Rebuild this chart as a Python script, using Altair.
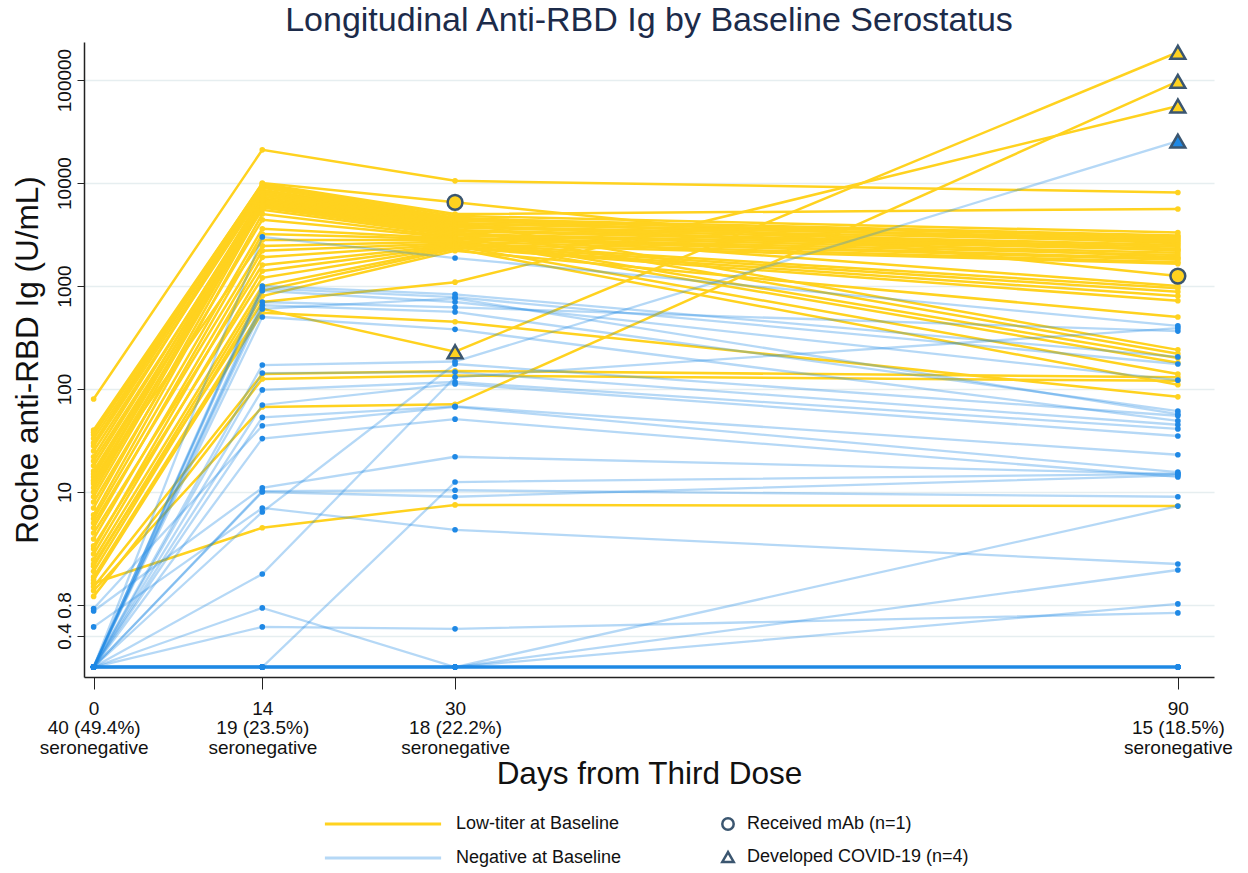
import altair as alt
import pandas as pd

# Study visit days after the third vaccine dose
days = [0, 14, 30, 90]
seroneg_counts = ["40 (49.4%)", "19 (23.5%)", "18 (22.2%)", "15 (18.5%)"]

LOW = "Low-titer at Baseline"
NEG = "Negative at Baseline"

# Roche anti-RBD Ig (U/mL) per patient, low-titer group (L1..L41)
low_d0 = [80, 36, 40, 30, 33, 22, 28, 38, 25, 14, 18, 12, 20, 10, 16, 13, 9, 11, 7, 15,
          6, 8, 5.5, 4.5, 12.5, 5, 3.5, 2.8, 4, 2.5, 3, 2.2, 1.9, 1.7, 2, 1.5, 1.4, 1.2,
          0.97, 1.1, 1.3]
low_d14 = [21000, 10000, 9800, 9500, 9200, 9000, 8600, 8300, 8000, 7700, 7400, 7100, 6900,
           6700, 6500, 6300, 6100, 6000, 5800, 5500, 5000, 4400, 3600, 3200, 2800, 2450,
           2200, 1900, 1600, 1400, 1200, 1000, 900, 800, 700, 600, 550, 140, 125, 67, 4.5]
low_d30 = [10500, 6500, 5000, 4800, 4600, 4500, 4400, 4300, 4200, 4100, 4000, 3900, 3800,
           3700, 3600, 3500, 3400, 3300, 3200, 3100, 3000, 2950, 2900, 2850, 2800, 2700,
           2600, 2550, 2500, 2450, 2400, 2350, 2300, 2200, 1090, 230, 450, 150, 135, 71, 7.5]
low_d90 = [8100, 1250, 5600, 3300, 2600, 3100, 2200, 3000, 240, 2800, 2900, 1900, 2700,
           2500, 220, 2400, 2300, 1000, 2250, 2100, 200, 2000, 1850, 1800, 180, 1700, 950,
           1650, 880, 140, 800, 720, 110, 500, 56000, 186000, 84, 130, 120, 97000, 7.3]

# Negative-at-baseline group (N1..N40)
neg_d0 = [0.2, 0.2, 0.2, 0.2, 0.2, 0.2, 0.2, 0.2, 0.2, 0.2, 0.2, 0.2, 0.2, 0.74, 0.2, 0.7,
          0.2, 0.2, 0.49, 0.2, 0.2, 0.2, 0.2, 0.2, 0.2, 0.2, 0.2, 0.2, 0.2, 0.2, 0.2, 0.2,
          0.2, 0.2, 0.2, 0.2, 0.2, 0.2, 0.2, 0.2]
neg_d14 = [3000, 1000, 950, 900, 700, 650, 600, 500, 171, 143, 98, 70, 53, 44, 33, 11,
           10.2, 10, 7, 6.4, 1.6, 0.2, 0.75, 0.49, 0.2, 0.2, 0.2, 0.2, 0.2, 0.2, 0.2, 0.2,
           0.2, 0.2, 0.2, 0.2, 0.2, 0.2, 0.2, 0.2]
neg_d30 = [1870, 830, 780, 700, 620, 560, 760, 380, 185, 146, 117, 112, 68, 67, 51, 22,
           10.4, 9, 4.3, 175, 130, 12.5, 0.2, 0.47, 0.2, 0.2, 0.2, 0.2, 0.2, 0.2, 0.2, 0.2,
           0.2, 0.2, 0.2, 0.2, 0.2, 0.2, 0.2, 0.2]
neg_d90 = [410, 205, 175, 122, 365, 61, 57, 49, 25500, 45, 41, 35, 23, 15.6, 14, 15, 9,
           14.5, 2.0, 55, 390, 15, 7.3, 0.67, 0.82, 1.75, 0.2, 0.2, 0.2, 0.2, 0.2, 0.2,
           0.2, 0.2, 0.2, 0.2, 0.2, 0.2, 0.2, 0.2]

# Highlighted visits: (patient, day)
mab_visits = [("L2", 30), ("L2", 90)]
covid_visits = [("L36", 30), ("L36", 90), ("L35", 90), ("L40", 90), ("N9", 90)]

MAB = "Received mAb (n=1)"
COVID = "Developed COVID-19 (n=4)"


def long_table(prefix, group, series):
    rows = []
    for i in range(len(series[0])):
        for d, vals in zip(days, series):
            rows.append({"pid": f"{prefix}{i + 1}", "group": group, "day": d, "value": vals[i]})
    return pd.DataFrame(rows)


low_df = long_table("L", LOW, [low_d0, low_d14, low_d30, low_d90])
neg_df = long_table("N", NEG, [neg_d0, neg_d14, neg_d30, neg_d90])
all_df = pd.concat([low_df, neg_df], ignore_index=True)

mark_rows = []
for label, visits in [(MAB, mab_visits), (COVID, covid_visits)]:
    for pid, d in visits:
        hit = all_df[(all_df.pid == pid) & (all_df.day == d)].iloc[0]
        mark_rows.append({"pid": pid, "group": hit.group, "day": d, "value": hit.value, "marker": label})
marker_df = pd.DataFrame(mark_rows)

YELLOW = "#FFD21F"
BLUE = "#1E88E5"
SLATE = "#3B5670"
FONT = "Liberation Sans"

x_label_expr = " : ".join(
    f"datum.value == {d} ? ['{d}', '{c}', 'seronegative']" for d, c in zip(days, seroneg_counts)
) + " : ''"

x_enc = alt.X(
    "day:Q",
    scale=alt.Scale(domain=[-0.8, 93], nice=False, zero=False),
    axis=alt.Axis(
        values=days, title="Days from Third Dose", labelExpr=x_label_expr,
        grid=False, tickSize=12, tickColor="#222", domainColor="#222", domainWidth=1.5,
        labelFontSize=19, labelLineHeight=19.5, labelPadding=10, labelColor="#111",
        titleFontSize=31.5, titleFontWeight="normal", titleColor="#111", titlePadding=1,
        labelFont=FONT, titleFont=FONT,
    ),
)
y_enc = alt.Y(
    "value:Q",
    scale=alt.Scale(type="log", domain=[0.16, 234000], nice=False),
    axis=alt.Axis(
        values=[0.4, 0.8, 10, 100, 1000, 10000, 100000],
        labelExpr="datum.value < 1 ? format(datum.value, '.1f') : format(datum.value, 'd')",
        title="Roche anti-RBD Ig (U/mL)", labelAngle=270, labelAlign="center",
        labelBaseline="bottom", labelFontSize=19, labelPadding=3, labelColor="#111",
        tickSize=7, tickColor="#222", domainColor="#222", domainWidth=1.5,
        grid=True, gridColor="#E6EEF0", gridWidth=1.5,
        titleFontSize=31.5, titleFontWeight="normal", titleColor="#111", titlePadding=11,
        labelFont=FONT, titleFont=FONT,
    ),
)

# A flat path scaled past its symbol box gives a long line swatch in the legend
line_color = alt.Color(
    "group:N",
    scale=alt.Scale(domain=[LOW, NEG], range=[YELLOW, "rgba(30,136,229,0.33)"]),
    legend=alt.Legend(
        title=None, orient="none", legendX=290, legendY=773, symbolType="M-8.3,0L8.3,0",
        symbolSize=196, symbolStrokeWidth=3, labelFontSize=18, labelFont=FONT,
        labelColor="#111", labelOffset=64, labelLimit=400, rowPadding=16, padding=0,
    ),
)
point_fill = alt.Fill("group:N", scale=alt.Scale(domain=[LOW, NEG], range=[YELLOW, BLUE]), legend=None)

base_low = alt.Chart(low_df)
base_neg = alt.Chart(neg_df)

low_lines = base_low.mark_line(strokeWidth=2.5).encode(x=x_enc, y=y_enc, detail="pid:N", color=line_color)
low_pts = base_low.mark_circle(size=32, opacity=1).encode(x=x_enc, y=y_enc, fill=point_fill)
neg_lines = base_neg.mark_line(strokeWidth=2.3).encode(x=x_enc, y=y_enc, detail="pid:N", color=line_color)
neg_pts = base_neg.mark_circle(size=32, opacity=1).encode(x=x_enc, y=y_enc, fill=point_fill)

markers = alt.Chart(marker_df).mark_point(filled=True, size=220, stroke=SLATE, strokeWidth=2.5, opacity=1).encode(
    x=x_enc, y=y_enc, fill=point_fill,
    shape=alt.Shape(
        "marker:N",
        scale=alt.Scale(domain=[MAB, COVID], range=["circle", "triangle-up"]),
        legend=alt.Legend(
            title=None, orient="none", legendX=635, legendY=773, symbolSize=130,
            symbolFillColor="white", symbolStrokeColor=SLATE, symbolStrokeWidth=2.5,
            labelFontSize=18, labelFont=FONT, labelColor="#111", labelOffset=10,
            labelLimit=400, rowPadding=12, padding=0,
        ),
    ),
)

chart = alt.layer(low_lines, low_pts, neg_lines, neg_pts, markers).properties(
    width=1130, height=635,
    padding={"left": 12, "top": 3, "right": 5, "bottom": 5},
    title=alt.TitleParams(
        "Longitudinal Anti-RBD Ig by Baseline Serostatus", fontSize=34, fontWeight="normal",
        color="#1C2B4A", font=FONT, anchor="middle", offset=3,
    ),
).configure_view(stroke=None)

chart.save("out.html", embed_options={"renderer": "svg", "actions": False})
